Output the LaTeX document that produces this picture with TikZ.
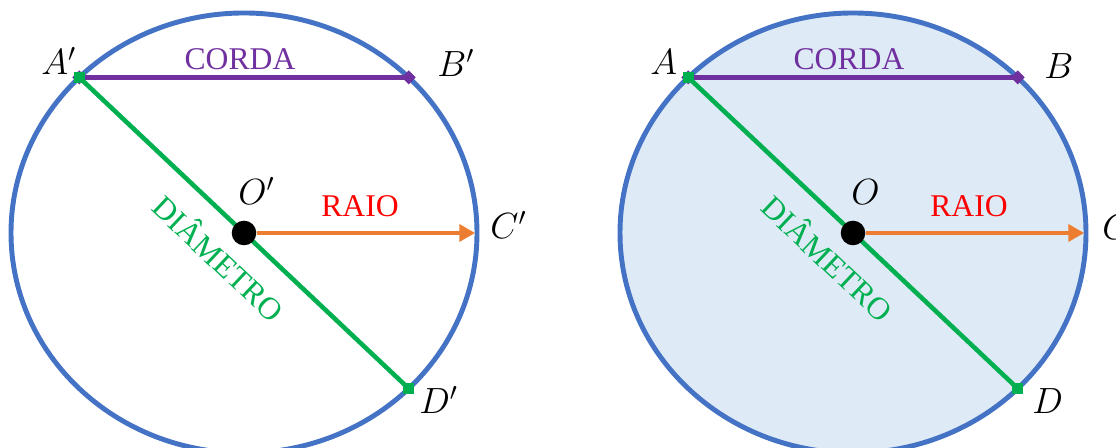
\documentclass[tikz,border=0pt]{standalone}
\usepackage{fontspec}
\setmainfont{Liberation Serif}
\usetikzlibrary{arrows.meta}
\definecolor{rimblue}{HTML}{4472C4}
\definecolor{diskfill}{HTML}{DEEBF7}
\definecolor{diamgreen}{HTML}{00B050}
\definecolor{chordpurple}{HTML}{7030A0}
\definecolor{radorange}{HTML}{ED7D31}
\definecolor{radred}{HTML}{FF0000}
\tikzset{
  rim/.style={draw=rimblue,line width=2.8pt},
  chord/.style={draw=chordpurple,line width=2.6pt},
  diam/.style={draw=diamgreen,line width=2.6pt},
  radius/.style={draw=radorange,line width=2.6pt,->,shorten >=1pt},
  dot/.style={circle,fill=black,minimum size=14pt,inner sep=0pt},
  sqmark/.style={rectangle,fill=diamgreen,minimum size=6.5pt,inner sep=0pt},
  diamark/.style={rectangle,fill=chordpurple,minimum size=5.6pt,inner sep=0pt,rotate=45},
  ptlabel/.style={anchor=base west,inner sep=0pt,font=\fontsize{19.5}{22}\selectfont},
  word/.style={inner sep=0pt,font=\fontsize{18}{21}\selectfont}
}
\begin{document}
\begin{tikzpicture}[x=0.02cm,y=0.02cm,>={Triangle[length=9pt,width=9.5pt]}]
\useasboundingbox (0,0) rectangle (1116,448);
\clip (0,0) rectangle (1116,448);
% left circle (primed points)
\begin{scope}[shift={(244,215)}]
\draw[rim] (0,0) ellipse [x radius=233,y radius=220];
\coordinate (A1) at (135:233 and 220);
\coordinate (B1) at (45:233 and 220);
\coordinate (C1) at (0:233 and 220);
\coordinate (D1) at (-45:233 and 220);
\draw[chord] (A1) -- (B1);
\draw[diam] (A1) -- (D1);
\node[dot] (O1) at (0,0) {};
\draw[radius] (O1) -- (C1);
\node[diamark] (pA1) at (A1) {};
\node[diamark] (pB1) at (B1) {};
\node[sqmark] (gA1) at (A1) {};
\node[sqmark] (gD1) at (D1) {};
\node[ptlabel] (lA1) at (-203,158) {$A'$};
\node[ptlabel] (lB1) at (193,156) {$B'$};
\node[ptlabel] (lO1) at (-6,28) {$O'$};
\node[ptlabel] (lC1) at (246,-6) {$C'$};
\node[ptlabel] (lD1) at (175,-181) {$D'$};
\node[word,text=chordpurple] (corda1) at (-4,174) {CORDA};
\node[word,text=radred] (raio1) at (116,27) {RAIO};
\node[word,text=diamgreen,rotate=-43.35] (diam1) at (-24,-24) {DIÂMETRO};
\end{scope}
% right circle (filled)
\begin{scope}[shift={(853,215)}]
\draw[rim,fill=diskfill] (0,0) ellipse [x radius=233,y radius=220];
\coordinate (A2) at (135:233 and 220);
\coordinate (B2) at (45:233 and 220);
\coordinate (C2) at (0:233 and 220);
\coordinate (D2) at (-45:233 and 220);
\draw[chord] (A2) -- (B2);
\draw[diam] (A2) -- (D2);
\node[dot] (O2) at (0,0) {};
\draw[radius] (O2) -- (C2);
\node[diamark] (pA2) at (A2) {};
\node[diamark] (pB2) at (B2) {};
\node[sqmark] (gA2) at (A2) {};
\node[sqmark] (gD2) at (D2) {};
\node[ptlabel] (lA2) at (-203,158) {$A$};
\node[ptlabel] (lB2) at (191,154) {$B$};
\node[ptlabel] (lO2) at (-2,28) {$O$};
\node[ptlabel] (lC2) at (249,-7) {$C$};
\node[ptlabel] (lD2) at (179,-181) {$D$};
\node[word,text=chordpurple] (corda2) at (-4,174) {CORDA};
\node[word,text=radred] (raio2) at (116,27) {RAIO};
\node[word,text=diamgreen,rotate=-43.35] (diam2) at (-24,-24) {DIÂMETRO};
\end{scope}
\end{tikzpicture}
\end{document}
